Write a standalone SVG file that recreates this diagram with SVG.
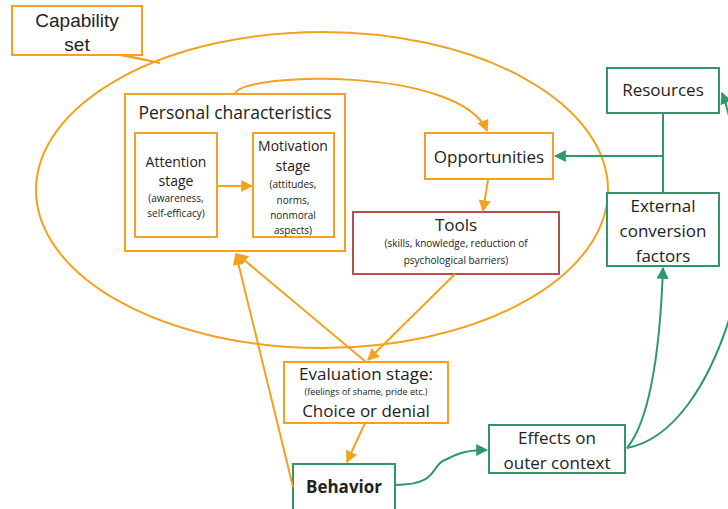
<svg xmlns="http://www.w3.org/2000/svg" width="728" height="509" viewBox="0 0 728 509">
<defs>
<style>
text{font-family:"Open Sans","Noto Sans","Liberation Sans",sans-serif;fill:#222;text-anchor:middle}
.o{fill:#fff;stroke:#F5A11F;stroke-width:2}
.g{fill:#fff;stroke:#2E9966;stroke-width:2}
.r{fill:#fff;stroke:#B5504F;stroke-width:2}
.lo{fill:none;stroke:#F5A11F;stroke-width:2}
.lg{fill:none;stroke:#2E9966;stroke-width:2}
.big{font-size:17px}
.mid{font-size:14px}
.sm{font-size:10px}
</style>
<marker id="ao" viewBox="0 0 10 10" refX="9" refY="5" markerWidth="6" markerHeight="6" orient="auto-start-reverse"><path d="M0,0L10,5L0,10z" fill="#F5A11F"/></marker>
<marker id="ag" viewBox="0 0 10 10" refX="9" refY="5" markerWidth="6" markerHeight="6" orient="auto-start-reverse"><path d="M0,0L10,5L0,10z" fill="#2E9966"/></marker>
</defs>
<g id="capability-ellipse"><ellipse cx="322" cy="190" rx="286" ry="158" class="lo"/></g>
<g id="capability-set">
<rect x="12" y="6" width="130" height="49" class="o"/>
<path d="M120,55 L160,63 L128,56" class="lo"/>
<text x="77" y="27" style="font-family:'Liberation Sans',Arial,sans-serif;font-size:19px">Capability</text>
<text x="77" y="51" style="font-family:'Liberation Sans',Arial,sans-serif;font-size:19px">set</text>
</g>
<g id="personal-characteristics">
<rect x="125" y="94" width="220" height="157" class="o"/>
<text x="235" y="119" style="font-size:17.5px">Personal characteristics</text>
</g>
<g id="attention-stage">
<rect x="135" y="133" width="82" height="104" class="o"/>
<text x="176" y="167" class="mid">Attention</text>
<text x="176" y="186" class="mid">stage</text>
<text x="176" y="202" class="sm">(awareness,</text>
<text x="176" y="217" class="sm">self-efficacy)</text>
</g>
<g id="motivation-stage">
<rect x="253" y="133" width="81" height="104" class="o"/>
<text x="293" y="151" class="mid">Motivation</text>
<text x="293" y="171" class="mid">stage</text>
<text x="293" y="188" class="sm">(attitudes,</text>
<text x="293" y="204" class="sm">norms,</text>
<text x="293" y="219" class="sm">nonmoral</text>
<text x="293" y="234" class="sm">aspects)</text>
</g>
<g id="opportunities">
<rect x="425" y="133" width="128" height="46" class="o"/>
<text x="489" y="163" class="big">Opportunities</text>
</g>
<g id="tools">
<rect x="353" y="212" width="206" height="62" class="r"/>
<text x="456" y="231" class="big">Tools</text>
<text x="456" y="247" class="sm">(skills, knowledge,  reduction of</text>
<text x="456" y="264" class="sm">psychological barriers)</text>
</g>
<g id="resources">
<rect x="607" y="68" width="112" height="45" class="g"/>
<text x="663" y="96" class="big">Resources</text>
</g>
<g id="external-conversion-factors">
<rect x="607" y="193" width="112" height="73" class="g"/>
<text x="663" y="212" class="big">External</text>
<text x="663" y="237" class="big">conversion</text>
<text x="663" y="262" class="big">factors</text>
</g>
<g id="evaluation-stage">
<rect x="284" y="362" width="164" height="61" class="o"/>
<text x="366" y="380" class="big">Evaluation stage:</text>
<text x="366" y="395" style="font-size:9px">(feelings of shame, pride etc.)</text>
<text x="366" y="417" class="big">Choice or denial</text>
</g>
<g id="behavior">
<rect x="293" y="464" width="102" height="50" class="g"/>
<text x="344" y="493" class="big" style="font-weight:bold">Behavior</text>
</g>
<g id="effects-on-outer-context">
<rect x="489" y="425" width="136" height="48" class="g"/>
<text x="557" y="444" class="big">Effects on</text>
<text x="557" y="469" class="big">outer context</text>
</g>
<g id="connectors">
<path d="M217,186 L252,186" class="lo" marker-end="url(#ao)"/>
<path d="M235,94 C240,72 460,66 487,131" class="lo" marker-end="url(#ao)"/>
<path d="M488,180 L483,211" class="lo" marker-end="url(#ao)"/>
<path d="M455,274 L368,360" class="lo" marker-end="url(#ao)"/>
<path d="M366,362 L237,254" class="lo" marker-end="url(#ao)"/>
<path d="M293,487 L236,254" class="lo" marker-end="url(#ao)"/>
<path d="M365,423 L347,462" class="lo" marker-end="url(#ao)"/>
<path d="M663,113 L663,193 M663,156 L555,156" class="lg" marker-end="url(#ag)"/>
<path d="M395,485 C440,485 430,465 445,460 C460,452 470,450 487,450" class="lg" marker-end="url(#ag)"/>
<path d="M627,448 C650,420 660,350 663,268" class="lg" marker-end="url(#ag)"/>
<path d="M627,448 C670,440 710,390 735,300" class="lg"/>
<path d="M735,140 C730,120 727,105 722,93" class="lg" marker-end="url(#ag)"/>
</g>
</svg>
